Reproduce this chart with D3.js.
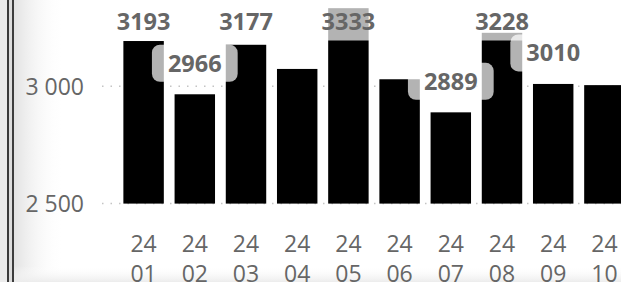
<!DOCTYPE html>
<html>
<head>
<meta charset="utf-8">
<script src="https://cdn.jsdelivr.net/npm/d3@7"></script>
<style>
  html, body { margin: 0; padding: 0; background: #fff; overflow: hidden; }
  svg { display: block; font-family: "Open Sans", "Segoe UI", sans-serif; }
</style>
</head>
<body>
<svg></svg>
<script>
const months = ["24 01", "24 02", "24 03", "24 04", "24 05", "24 06", "24 07", "24 08", "24 09", "24 10"];
const values = [3193, 2966, 3177, 3074, 3333, 3030, 2889, 3228, 3010, 3005];
const showLabel = [true, true, true, false, true, false, true, true, true, false];
const yTicks = [2500, 3000];

const W = 621, H = 282;
const svg = d3.select("svg").attr("width", W).attr("height", H);
const defs = svg.append("defs");

const x = d3.scaleBand().domain(months).range([118, 630]).paddingInner(0.21).paddingOuter(0.105);
const y = d3.scaleLinear().domain([2500, 3000]).range([203.6, 86.3]);
const fmt = d3.formatLocale({ decimal: ",", thousands: " ", grouping: [3], currency: ["", ""] }).format(",");

// frame shadow on the left and bottom
const sideGrad = defs.append("linearGradient").attr("id", "side").attr("x1", 0).attr("x2", 1);
sideGrad.append("stop").attr("offset", "0%").attr("stop-color", "#e2e2e2");
sideGrad.append("stop").attr("offset", "100%").attr("stop-color", "#fff").attr("stop-opacity", 0);
const botGrad = defs.append("linearGradient").attr("id", "bot").attr("x1", 0).attr("x2", 0).attr("y1", 0).attr("y2", 1);
botGrad.append("stop").attr("offset", "0%").attr("stop-color", "#fff").attr("stop-opacity", 0);
botGrad.append("stop").attr("offset", "100%").attr("stop-color", "#ececec");

svg.append("rect").attr("x", 14).attr("y", 0).attr("width", 50).attr("height", H).attr("fill", "url(#side)");
svg.append("rect").attr("x", 14).attr("y", 266).attr("width", W).attr("height", 16).attr("fill", "url(#bot)");
svg.append("rect").attr("x", 0).attr("y", 0).attr("width", 7).attr("height", H).attr("fill", "#ececec");
svg.append("rect").attr("x", 9).attr("y", 0).attr("width", 3).attr("height", H).attr("fill", "#dcdcdc");
[7, 12].forEach(px => {
  svg.append("rect").attr("x", px).attr("y", 0).attr("width", 2).attr("height", H).attr("fill", "#3c3c3c");
});

// gridlines
svg.append("g").selectAll("line")
  .data(yTicks)
  .enter()
  .append("line")
  .attr("x1", 102).attr("x2", W)
  .attr("y1", d => y(d)).attr("y2", d => y(d))
  .attr("stroke", "#c4c4c4")
  .attr("stroke-width", 1.5)
  .attr("stroke-dasharray", "1.5,7");

// y axis labels
const yAxis = svg.append("g")
  .attr("transform", "translate(84,0)")
  .call(d3.axisLeft(y).tickValues(yTicks).tickFormat(fmt).tickSize(0).tickPadding(0));
yAxis.select(".domain").remove();
yAxis.selectAll("text")
  .attr("font-family", "Open Sans")
  .attr("font-size", 23)
  .attr("fill", "#666")
  .attr("dy", "0.36em");

// bars
svg.append("g").selectAll("rect")
  .data(values)
  .enter()
  .append("rect")
  .attr("x", (d, i) => x(months[i]))
  .attr("y", d => y(d))
  .attr("width", x.bandwidth())
  .attr("height", d => y(2500) - y(d))
  .attr("fill", "#000");

// x axis labels, wrapped on two lines
const xl = svg.append("g").selectAll("text")
  .data(months)
  .enter()
  .append("text")
  .attr("x", d => x(d) + x.bandwidth() / 2)
  .attr("text-anchor", "middle")
  .attr("font-size", 23)
  .attr("fill", "#666");
xl.append("tspan").attr("x", d => x(d) + x.bandwidth() / 2).attr("y", 251.5).text(d => d.split(" ")[0]);
xl.append("tspan").attr("x", d => x(d) + x.bandwidth() / 2).attr("y", 281.5).text(d => d.split(" ")[1]);

// data labels with translucent background
const labelData = values.map((v, i) => ({ v, m: months[i], show: showLabel[i] })).filter(d => d.show);
const labelY = d => Math.max(y(d.v) - 31, 22);
const lbl = svg.append("g").selectAll("g")
  .data(labelData)
  .enter()
  .append("g")
  .attr("transform", d => `translate(${x(d.m) + x.bandwidth() / 2},${labelY(d)})`);
const bg = lbl.append("rect");
const txt = lbl.append("text")
  .attr("text-anchor", "middle")
  .attr("dy", "0.36em")
  .attr("font-size", 23.5)
  .attr("font-weight", "bold")
  .attr("fill", "#666")
  .text(d => d.v);
bg.each(function (d, i) {
  const w = txt.nodes()[i].getComputedTextLength() + 32;
  d3.select(this)
    .attr("x", -w / 2).attr("y", -18.5)
    .attr("width", w).attr("height", 37)
    .attr("rx", 8)
    .attr("fill", "#fff")
    .attr("fill-opacity", 0.7);
});
</script>
</body>
</html>
